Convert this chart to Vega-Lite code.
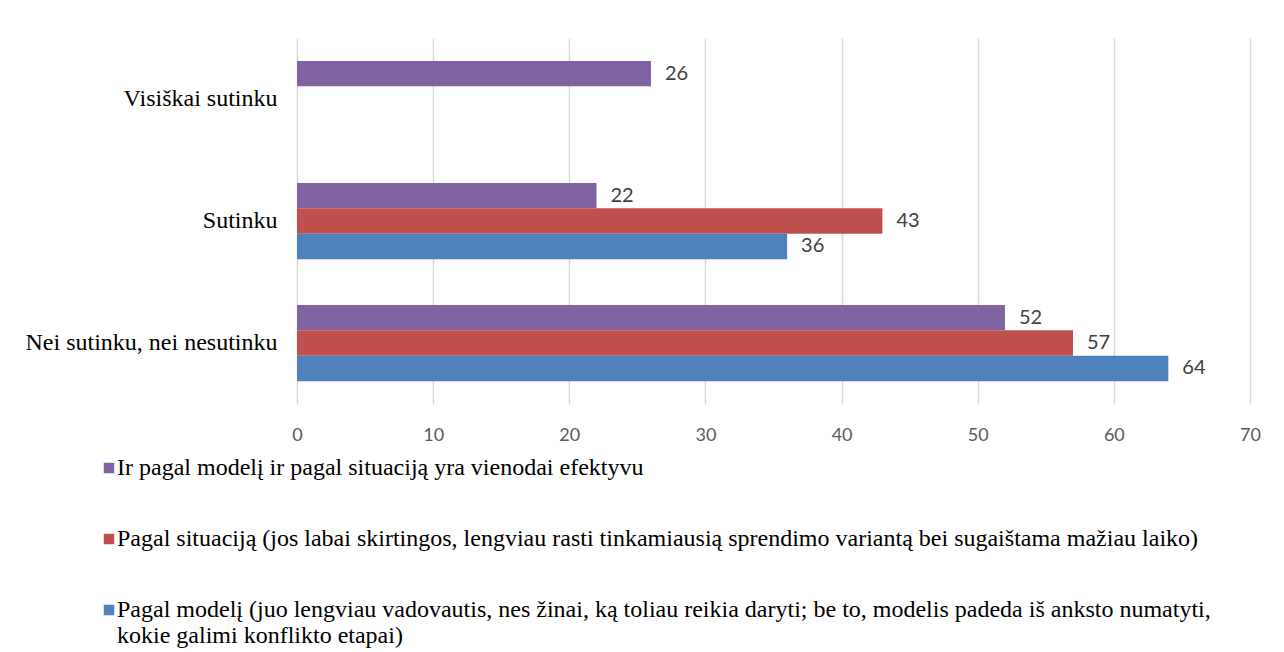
{
  "$schema": "https://vega.github.io/schema/vega-lite/v6.json",
  "autosize": {"type": "none"},
  "width": 953,
  "height": 366,
  "padding": {"left": 297, "top": 38, "right": 34, "bottom": 248},
  "background": "white",
  "config": {"view": {"stroke": null}},
  "data": {
    "values": [
      {"atsakymas": "Visiškai sutinku", "serija": "Ir pagal modelį ir pagal situaciją yra vienodai efektyvu", "reiksme": 26},
      {"atsakymas": "Sutinku", "serija": "Ir pagal modelį ir pagal situaciją yra vienodai efektyvu", "reiksme": 22},
      {"atsakymas": "Sutinku", "serija": "Pagal situaciją (jos labai skirtingos, lengviau rasti tinkamiausią sprendimo variantą bei sugaištama mažiau laiko)", "reiksme": 43},
      {"atsakymas": "Sutinku", "serija": "Pagal modelį (juo lengviau vadovautis, nes žinai, ką toliau reikia daryti; be to, modelis padeda iš anksto numatyti, kokie galimi konflikto etapai)", "reiksme": 36},
      {"atsakymas": "Nei sutinku, nei nesutinku", "serija": "Ir pagal modelį ir pagal situaciją yra vienodai efektyvu", "reiksme": 52},
      {"atsakymas": "Nei sutinku, nei nesutinku", "serija": "Pagal situaciją (jos labai skirtingos, lengviau rasti tinkamiausią sprendimo variantą bei sugaištama mažiau laiko)", "reiksme": 57},
      {"atsakymas": "Nei sutinku, nei nesutinku", "serija": "Pagal modelį (juo lengviau vadovautis, nes žinai, ką toliau reikia daryti; be to, modelis padeda iš anksto numatyti, kokie galimi konflikto etapai)", "reiksme": 64}
    ]
  },
  "encoding": {
    "y": {
      "field": "atsakymas",
      "type": "nominal",
      "sort": ["Visiškai sutinku", "Sutinku", "Nei sutinku, nei nesutinku"],
      "scale": {"paddingInner": 0.375, "paddingOuter": 0.1875},
      "axis": {
        "title": null,
        "ticks": false,
        "domain": false,
        "grid": false,
        "labelPadding": 20,
        "labelFont": "Liberation Serif",
        "labelFontSize": 24,
        "labelColor": "#000000",
        "labelLimit": 400
      }
    },
    "yOffset": {
      "field": "serija",
      "type": "nominal",
      "sort": [
        "Ir pagal modelį ir pagal situaciją yra vienodai efektyvu",
        "Pagal situaciją (jos labai skirtingos, lengviau rasti tinkamiausią sprendimo variantą bei sugaištama mažiau laiko)",
        "Pagal modelį (juo lengviau vadovautis, nes žinai, ką toliau reikia daryti; be to, modelis padeda iš anksto numatyti, kokie galimi konflikto etapai)"
      ],
      "scale": {"paddingInner": 0, "paddingOuter": 0}
    },
    "x": {
      "field": "reiksme",
      "type": "quantitative",
      "scale": {"domain": [0, 70], "nice": false},
      "axis": {
        "title": null,
        "values": [0, 10, 20, 30, 40, 50, 60, 70],
        "tickSize": 0,
        "domain": false,
        "grid": true,
        "gridColor": "#D9D9D9",
        "gridWidth": 1.5,
        "labelFlush": false,
        "labelPadding": 22,
        "labelFont": "Lato",
        "labelFontSize": 18,
        "labelColor": "#595959"
      }
    }
  },
  "layer": [
    {
      "mark": {"type": "bar"},
      "encoding": {
        "color": {
          "field": "serija",
          "type": "nominal",
          "scale": {
            "domain": [
              "Ir pagal modelį ir pagal situaciją yra vienodai efektyvu",
              "Pagal situaciją (jos labai skirtingos, lengviau rasti tinkamiausią sprendimo variantą bei sugaištama mažiau laiko)",
              "Pagal modelį (juo lengviau vadovautis, nes žinai, ką toliau reikia daryti; be to, modelis padeda iš anksto numatyti, kokie galimi konflikto etapai)"
            ],
            "range": ["#8064A2", "#C0504D", "#4F81BD"]
          },
          "legend": {
            "title": null,
            "orient": "none",
            "direction": "vertical",
            "legendX": -200,
            "legendY": 418,
            "padding": 0,
            "symbolType": "square",
            "symbolSize": 110,
            "symbolStrokeWidth": 0,
            "labelOffset": -4,
            "labelFont": "Liberation Serif",
            "labelFontSize": 24,
            "labelColor": "#000000",
            "labelLimit": 1200,
            "labelBaseline": "middle",
            "rowPadding": 47,
            "labelExpr": "indexof(datum.label, ' kokie') > 0 ? [substring(datum.label, 0, indexof(datum.label, ' kokie')), substring(datum.label, indexof(datum.label, ' kokie') + 1)] : datum.label"
          }
        }
      }
    },
    {
      "mark": {
        "type": "text",
        "align": "left",
        "baseline": "middle",
        "dx": 14,
        "font": "Lato",
        "fontSize": 20,
        "color": "#404040"
      },
      "encoding": {
        "text": {"field": "reiksme", "type": "quantitative"}
      }
    }
  ]
}
